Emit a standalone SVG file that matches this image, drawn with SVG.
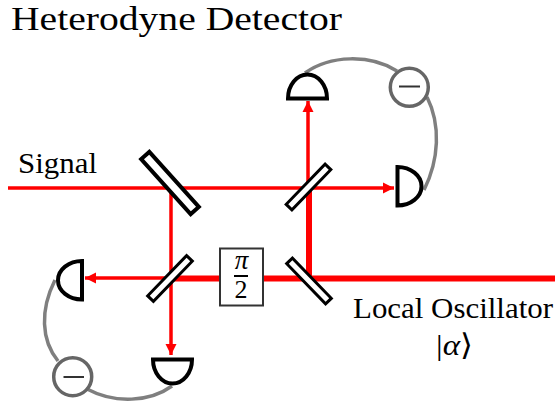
<svg xmlns="http://www.w3.org/2000/svg" width="555" height="407" viewBox="0 0 555 407">
<style>
.t{font-family:"Liberation Serif","DejaVu Serif",serif;fill:#000}
.b{fill:none;stroke:#f00;stroke-width:3.500}
.B{fill:none;stroke:#f00;stroke-width:6}
.w{fill:none;stroke:#7f7f7f;stroke-width:3.500}
.d{fill:#fff;stroke:#000;stroke-width:4}
.m{fill:#fff;stroke:#000;stroke-width:3}
.c{fill:#fff;stroke:#666;stroke-width:3.500}
.n{stroke:#333;stroke-width:2}
</style>
<defs><marker id="a" markerUnits="userSpaceOnUse" markerWidth="12" markerHeight="12" refX="11" refY="6" orient="auto"><path d="M0 0.500L11 6L0 11.500Z" fill="#f00"/></marker></defs>
<text id="title" class="t" x="11" y="30" font-size="33" textLength="331" lengthAdjust="spacingAndGlyphs">Heterodyne Detector</text>
<g id="connectors">
<path class="b" d="M8 188H394" marker-end="url(#a)"/>
<path class="b" d="M171 188V355" marker-end="url(#a)"/>
<path class="b" d="M308 188V101" marker-end="url(#a)"/>
<path class="b" d="M171 278H85" marker-end="url(#a)"/>
<path class="B" d="M309 188V278"/>
<path class="B" d="M171 278.500H555"/>
<path class="w" d="M305 73C330 55 370 54 397 71"/>
<path class="w" d="M427 97C441 125 439 160 424 190"/>
<path class="w" d="M55 280C40 310 41 340 58 361"/>
<path class="w" d="M87 389C115 404 150 402 172 386"/>
</g>
<g id="splitter-signal"><rect class="d" x="-37" y="-5.500" width="74" height="11" transform="translate(170 183) rotate(48)"/></g>
<g id="splitter-top"><rect class="m" x="-28" y="-4" width="56" height="8" transform="translate(308.500 187) rotate(-46)"/></g>
<g id="splitter-left"><rect class="m" x="-28" y="-4" width="56" height="8" transform="translate(170 278.500) rotate(-46)"/></g>
<g id="splitter-lo"><rect class="m" x="-28" y="-4" width="56" height="8" transform="translate(309 281) rotate(46)"/></g>
<g id="detector-top"><path class="d" d="M288 98.500H327A19.500 24 0 0 0 288 98.500Z"/></g>
<g id="detector-right"><path class="d" d="M397.500 167V205.500A24 19.250 0 0 0 397.500 167Z"/></g>
<g id="detector-left"><path class="d" d="M82 261V299.500A24 19.250 0 0 1 82 261Z"/></g>
<g id="detector-bottom"><path class="d" d="M153 359.500H192A19.500 24 0 0 1 153 359.500Z"/></g>
<g id="minus-top"><circle class="c" cx="409.300" cy="87.300" r="19"/><path class="n" d="M399 86.500H420"/></g>
<g id="minus-bottom"><circle class="c" cx="72.700" cy="376.700" r="19"/><path class="n" d="M63.500 377H84"/></g>
<g id="phase">
<rect x="220" y="248.500" width="43" height="57" fill="#fff" stroke="#333" stroke-width="2"/>
<text class="t" x="241.500" y="269" font-size="27" font-style="italic" text-anchor="middle">π</text>
<path d="M234 276H248" stroke="#000" stroke-width="2"/>
<text class="t" x="241" y="298" font-size="26" text-anchor="middle">2</text>
</g>
<text id="signal" class="t" x="18" y="173" font-size="29" textLength="79" lengthAdjust="spacingAndGlyphs">Signal</text>
<text id="lo" class="t" x="353" y="318" font-size="30" textLength="200" lengthAdjust="spacingAndGlyphs">Local Oscillator</text>
<text id="alpha" class="t" x="436" y="355" font-size="30" textLength="37" lengthAdjust="spacingAndGlyphs">|<tspan font-style="italic">α</tspan>⟩</text>
</svg>
